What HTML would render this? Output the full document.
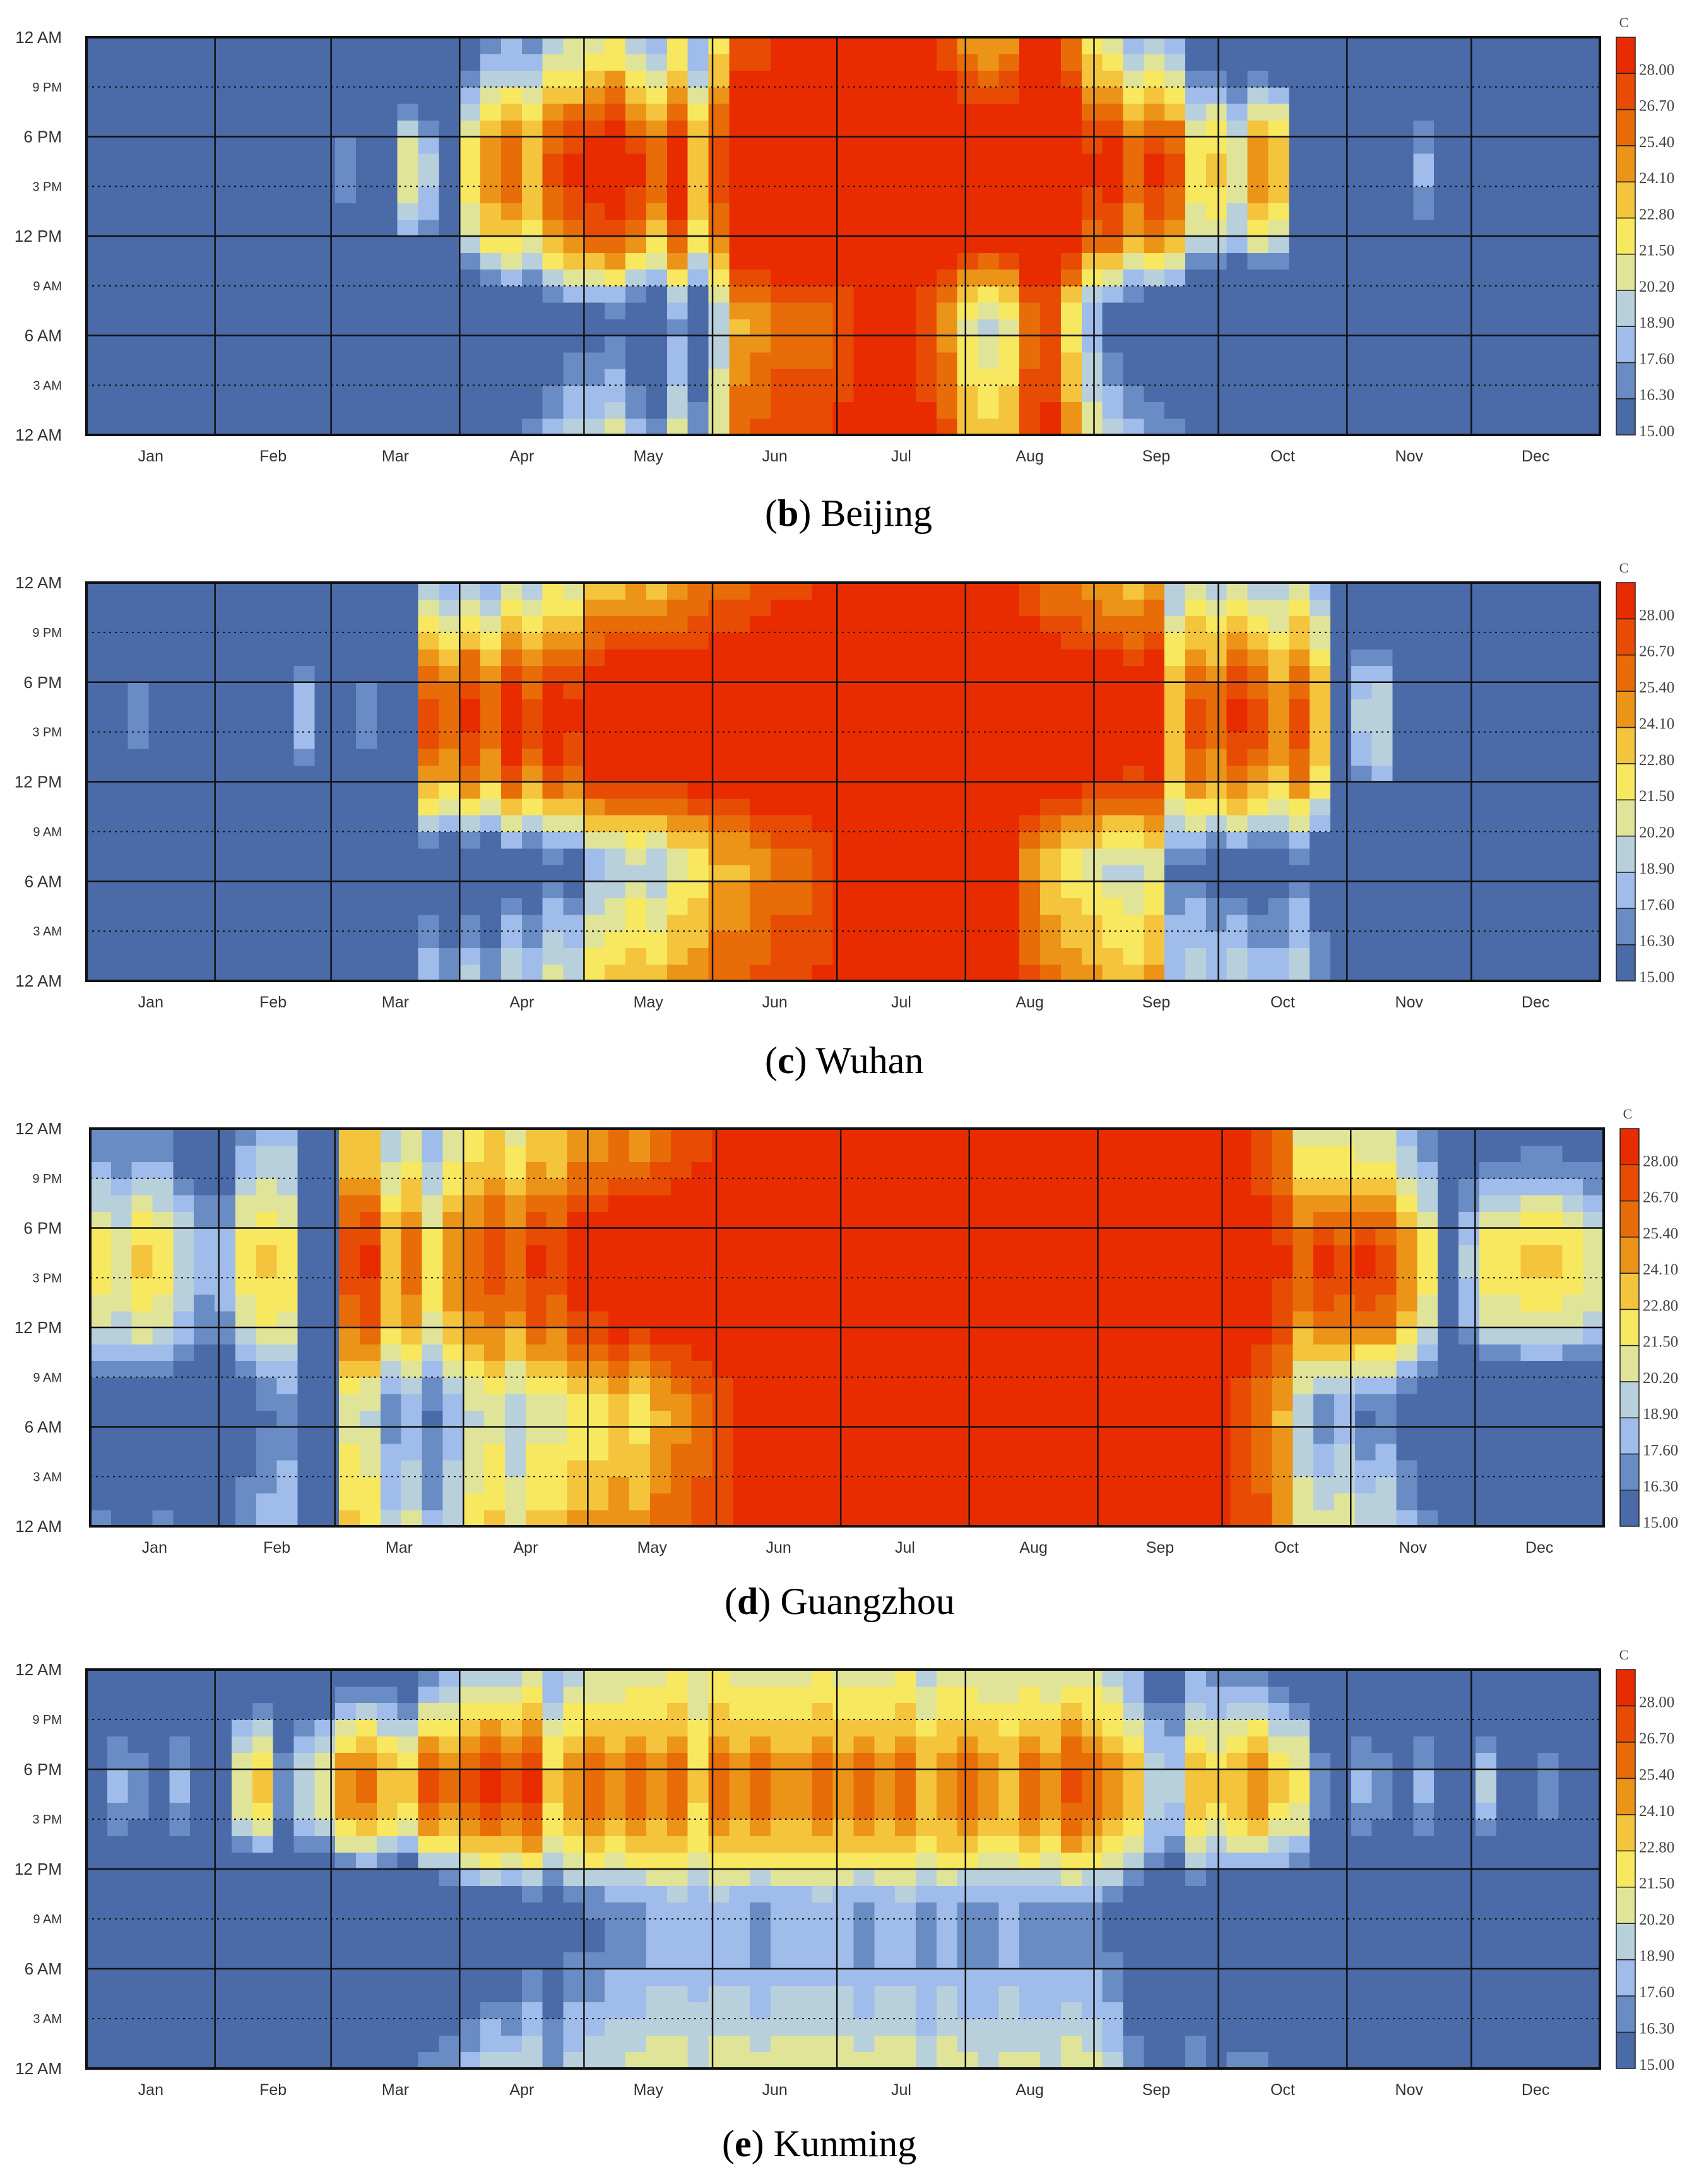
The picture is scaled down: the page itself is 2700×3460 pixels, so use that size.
<!DOCTYPE html>
<html><head><meta charset="utf-8">
<style>
html,body{margin:0;padding:0;background:#fff;}
svg{display:block;}
</style></head>
<body>
<svg id="fig" width="2700" height="3460" viewBox="0 0 2700 3460" xmlns="http://www.w3.org/2000/svg"></svg>
<script>
// ---------- data (5-day bins, 73 per year) ----------
const months = ["Jan","Feb","Mar","Apr","May","Jun","Jul","Aug","Sep","Oct","Nov","Dec"];
const monthStartDays = [0,31,59,90,120,151,181,212,243,273,304,334,365];
const hourTickLabels = ["12 AM","3 AM","6 AM","9 AM","12 PM","3 PM","6 PM","9 PM","12 AM"];
const colorbarLabels = ["15.00","16.30","17.60","18.90","20.20","21.50","22.80","24.10","25.40","26.70","28.00"];
const colorbarColors = ["#4a6aa8","#6a8cc4","#a0bcea","#b8d0dc","#e0e498","#f8e860","#f4c43c","#ec9418","#e86c08","#e84c04","#e82c00"];

const beijingMax = [10,10,10,10,10,10,10,10,10,10,10,10,17,12,12,21,19,14,22,25,26,24,27,28,29,30,28,26,29,24,27,31,31,31,31,31,31,31,31,31,31,31,31,31,31,31,31,31,28,29,26,28,27,22,23,21,25,24,14,13,12,12,12,12,18,10,10,10,10,10,10,10,10];
const beijingMin = [2,2,2,2,2,2,2,2,2,2,2,2,2,2,2,2,2,2,10,11,12,13,14,15,15,16,14,13,17,14,19,24,25,26,26,26,27,28,28,28,27,25,21,20,21,26,27,22,18,15,14,13,12,10,9,8,6,5,3,2,2,2,2,2,2,2,2,2,2,2,2,2,2];
const wuhanMax = [12,12,17,12,12,12,12,12,12,12,18,12,12,17,12,12,27,26,28,26,29,27,29,28,30,30,30,30,30,30,30,30,30,30,30,30,30,30,30,30,30,30,30,30,30,30,30,30,30,30,29,30,24,27,26,28,27,25,27,24,14,19,20,12,12,12,12,12,12,12,12,12,12];
const wuhanMin = [5,5,5,5,5,5,5,5,5,5,5,5,5,5,5,5,14,13,14,13,15,14,16,15,18,19,20,19,21,22,24,24,25,26,26,27,29,29,29,29,29,29,29,29,29,25,23,22,21,20,20,21,16,16,15,15,14,15,16,14,8,5,5,5,5,5,5,5,5,5,5,5,5];
const guangzhouMax = [22,21,23,22,20,18,18,22,23,22,14,14,27,28,24,26,22,25,26,27,26,28,27,29,29,30,30,30,30,30,30,30,30,30,30,30,30,30,30,30,30,30,30,30,30,30,30,30,30,30,30,30,30,30,30,30,29,28,26,28,27,28,27,25,22,14,19,22,22,23,23,22,21];
const guangzhouMin = [14,14,13,14,12,12,13,15,16,17,10,10,21,20,17,18,16,18,20,21,19,21,21,22,22,23,22,24,25,26,27,28,28,28,28,28,29,29,29,29,29,29,29,29,29,29,29,29,28,28,28,28,28,28,28,27,26,24,19,17,18,16,17,15,14,10,12,12,12,12,12,12,12];
const kunmingMax = [16,18,17,15,18,16,16,21,23,17,20,21,25,26,24,23,27,26,27,28,27,28,23,25,26,25,26,25,26,23,26,25,26,25,25,26,25,26,25,26,24,25,26,25,24,26,25,27,26,25,24,20,19,24,23,24,25,23,22,17,15,18,17,16,18,16,15,19,16,15,17,14,15];
const kunmingMin = [8,8,8,8,8,8,8,8,8,8,8,8,8,8,8,8,10,12,13,14,14,15,14,16,16,17,17,18,18,18,18,18,17,18,18,18,18,17,18,18,17,18,17,17,18,17,17,17,17,16,13,12,12,13,12,12,11,11,10,9,8,8,8,8,8,8,8,8,8,8,8,8,8];

// diurnal profile (0 = daily min, 1 = daily max), hours 0..23
const shapeContinental = [.3,.25,.2,.15,.1,.05,0,.05,.2,.4,.6,.75,.85,.92,.97,1,1,.97,.9,.8,.68,.58,.48,.4];
const shapeWuhan = [.35,.3,.25,.2,.15,.08,0,.05,.2,.4,.6,.75,.86,.93,.98,1,1,.97,.9,.82,.72,.62,.52,.43];
const shapeGuangzhou = [.3,.25,.2,.15,.1,.05,0,.05,.18,.35,.55,.72,.84,.92,.97,1,1,.96,.88,.76,.62,.5,.42,.35];
const shapeKunming = [.38,.32,.26,.2,.15,.1,.05,.02,0,.03,.12,.35,.55,.72,.85,.95,1,1,.95,.85,.75,.62,.52,.44];

const panels = [
  {key:"beijing", tag:"b", city:"Beijing", max:beijingMax, min:beijingMin, shape:shapeContinental, top:59, bottom:689, left:137, right:2535, capX:1212, capY:833},
  {key:"wuhan", tag:"c", city:"Wuhan", max:wuhanMax, min:wuhanMin, shape:shapeWuhan, top:923, bottom:1554, left:137, right:2535, capX:1212, capY:1700},
  {key:"guangzhou", tag:"d", city:"Guangzhou", max:guangzhouMax, min:guangzhouMin, shape:shapeGuangzhou, top:1788, bottom:2418, left:143, right:2541, capX:1148, capY:2557},
  {key:"kunming", tag:"e", city:"Kunming", max:kunmingMax, min:kunmingMin, shape:shapeKunming, top:2645, bottom:3277, left:137, right:2535, capX:1144, capY:3416}
];

// ---------- drawing ----------
const NS = "http://www.w3.org/2000/svg";
const svg = document.getElementById("fig");
function mk(tag, attrs, parent){
  const e = document.createElementNS(NS, tag);
  for (const k in attrs) e.setAttribute(k, attrs[k]);
  (parent||svg).appendChild(e);
  return e;
}
function colorFor(v){
  let idx = 0;
  for (let i=0;i<colorbarLabels.length;i++){ if (v >= parseFloat(colorbarLabels[i])) idx = i; }
  if (v < 16.3) idx = 0;
  return colorbarColors[idx];
}

panels.forEach(p=>{
  const g = mk("g",{});
  
  
  const W = p.right - p.left, H = p.bottom - p.top;
  const xScale = d => p.left + d/365*W;
  const yScale = h => p.bottom - h/24*H;
  const cells = mk("g",{"shape-rendering":"crispEdges"}, g);
  
  
  const nb = p.max.length;
  for (let b=0;b<nb;b++){
    const d0 = b*5, d1 = Math.min(365,(b+1)*5);
    const x0 = xScale(d0), x1 = xScale(d1);
    for (let h=0;h<24;h++){
      const v = p.min[b] + (p.max[b]-p.min[b])*p.shape[h];
      const y0 = yScale(h+1), y1 = yScale(h);
      const r = mk("rect",{x:x0.toFixed(1),y:y0.toFixed(1),width:(x1-x0+0.6).toFixed(1),height:(y1-y0+0.6).toFixed(1),fill:colorFor(v)}, cells);
      
      
    }
  }
  for (let i=1;i<8;i++){
    const y = yScale(i*3);
    const solid = (i%2===0);
    const l = mk("line",{x1:p.left,x2:p.right,y1:y,y2:y,stroke:"#111","stroke-width":solid?2.5:2,"stroke-dasharray":solid?"none":"3 6"}, g);
    
    
  }
  for (let m=1;m<12;m++){
    const x = xScale(monthStartDays[m]);
    const l = mk("line",{x1:x,x2:x,y1:p.top,y2:p.bottom,stroke:"#111","stroke-width":2.5}, g);
    
    
  }
  const frame = mk("rect",{x:p.left,y:p.top,width:W,height:H,fill:"none",stroke:"#111","stroke-width":4}, g);
  
  
  hourTickLabels.forEach((t,i)=>{
    const major = (i%2===0);
    const tx = mk("text",{x:98,y:yScale(i*3)+(major?9:7),"text-anchor":"end","font-family":"Liberation Sans, sans-serif","font-size":major?26:20,fill:"#333"}, g);
    tx.textContent = t;
    
    
  });
  months.forEach((m,i)=>{
    const cx = xScale((monthStartDays[i]+monthStartDays[i+1])/2);
    const tx = mk("text",{x:cx,y:p.bottom+42,"text-anchor":"middle","font-family":"Liberation Sans, sans-serif","font-size":25,fill:"#333"}, g);
    tx.textContent = m;
    
    
  });
  const cbx = p.right + 26, cbw = 30;
  const segH = H/colorbarColors.length;
  const cbt = mk("text",{x:cbx+12,y:p.top-16,"text-anchor":"middle","font-family":"Liberation Serif, serif","font-size":22,fill:"#444"}, g);
  cbt.textContent = "C";
  
  
  colorbarColors.forEach((c,i)=>{
    const yb = p.bottom - i*segH;
    const r = mk("rect",{x:cbx,y:yb-segH,width:cbw,height:segH,fill:c,stroke:"#222","stroke-width":1.5}, g);
    
    
    const tx = mk("text",{x:cbx+cbw+6,y:yb+2,"font-family":"Liberation Serif, serif","font-size":25,fill:"#444"}, g);
    tx.textContent = colorbarLabels[i];
    
    
  });
  const cap = mk("text",{x:p.capX,y:p.capY,"font-family":"Liberation Serif, serif","font-size":60,fill:"#000"}, g);
  
  
  const t1 = mk("tspan",{}, cap); t1.textContent = "(";
  const t2 = mk("tspan",{"font-weight":"bold"}, cap); t2.textContent = p.tag;
  const t3 = mk("tspan",{}, cap); t3.textContent = ") " + p.city;
});
</script>
</body></html>
